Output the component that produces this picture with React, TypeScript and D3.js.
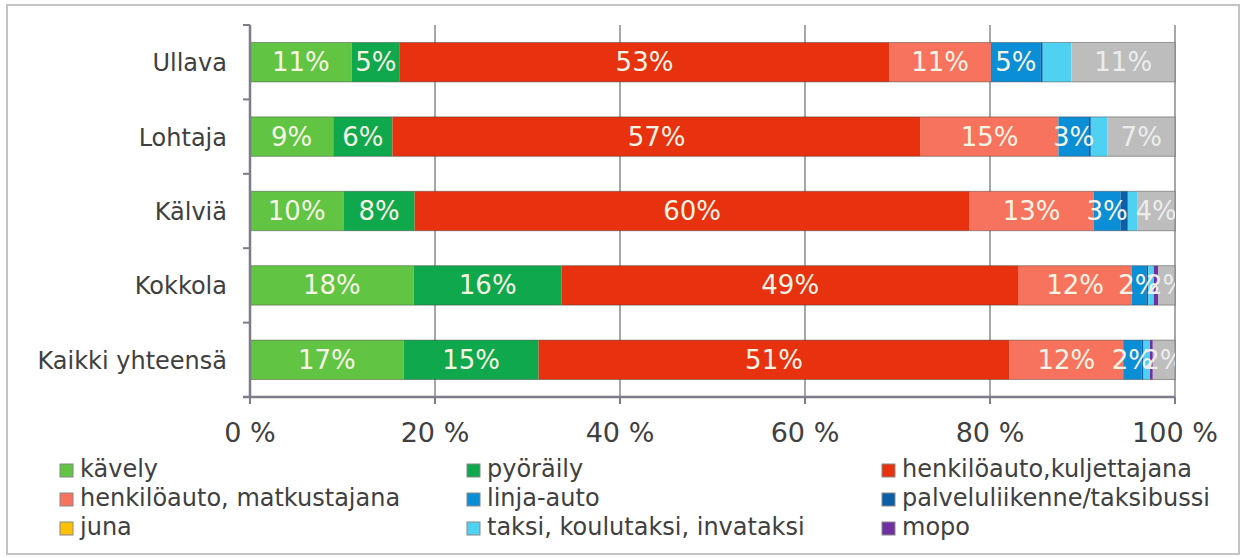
import React from "react";
import * as d3 from "d3";

const categories = ["Ullava", "Lohtaja", "Kälviä", "Kokkola", "Kaikki yhteensä"];
const kavely = [11.0, 9.0, 10.1, 17.7, 16.6];
const pyoraily = [5.2, 6.4, 7.7, 16.0, 14.6];
const kuljettajana = [52.9, 57.1, 60.0, 49.4, 50.9];
const matkustajana = [11.0, 14.9, 13.4, 12.2, 12.3];
const linjaAuto = [5.4, 3.3, 2.9, 1.6, 2.0];
const palvelu = [0.2, 0.2, 0.8, 0.2, 0.2];
const juna = [0, 0, 0, 0, 0];
const taksi = [3.1, 1.8, 1.0, 0.6, 0.7];
const mopo = [0, 0, 0, 0.5, 0.3];
const muu = [11.2, 7.3, 4.1, 1.8, 2.4];

const seriesNames = [
  "kävely",
  "pyöräily",
  "henkilöauto,kuljettajana",
  "henkilöauto, matkustajana",
  "linja-auto",
  "palveluliikenne/taksibussi",
  "juna",
  "taksi, koulutaksi, invataksi",
  "mopo",
  "muu",
];
const seriesValues = [kavely, pyoraily, kuljettajana, matkustajana, linjaAuto, palvelu, juna, taksi, mopo, muu];
const seriesColors = [
  "#62c443",
  "#0fa84c",
  "#e7310f",
  "#f7735e",
  "#0a8ed6",
  "#0b5ea8",
  "#ffc000",
  "#4fd2f2",
  "#7030a0",
  "#bdbdbd",
];
const labelled = [true, true, true, true, true, false, false, false, false, true];
const legendCount = 9;
const xTicks = [0, 20, 40, 60, 80, 100];

const W = 1249;
const H = 557;
const left = 250;
const right = 1175;
const top = 25;
const bottom = 397;
const FONT = "DejaVu Sans, Verdana, sans-serif";

export default function App() {
  const x = d3.scaleLinear().domain([0, 100]).range([left, right]);
  const y = d3
    .scaleBand<string>()
    .domain(categories)
    .range([top, bottom])
    .paddingInner(0.47)
    .paddingOuter(0.235);

  const rows = categories.map((c, i) => {
    const r: any = { cat: c };
    seriesNames.forEach((s, k) => (r[s] = seriesValues[k][i]));
    return r;
  });
  const stack = d3.stack<any>().keys(seriesNames)(rows);
  const step = y.step();

  return (
    <svg width={W} height={H} style={{ position: "absolute", left: 0, top: 0, background: "#fff" }}>
      <defs>
        <clipPath id="plotclip">
          <rect x={left} y={top} width={right - left} height={bottom - top} />
        </clipPath>
      </defs>
      <rect x={7} y={5} width={1232} height={549} fill="#fff" stroke="#c4c4c4" strokeWidth={2} />

      {/* gridlines */}
      {xTicks.slice(1).map((t) => (
        <line key={t} x1={x(t)} x2={x(t)} y1={top} y2={bottom} stroke="#8a8a8a" strokeWidth={1.5} />
      ))}

      {/* bars */}
      {stack.map((layer, k) =>
        layer.map((d, i) => {
          const w = x(d[1]) - x(d[0]);
          if (w <= 0) return null;
          return (
            <rect
              key={k + "-" + i}
              x={x(d[0])}
              y={y(categories[i])}
              width={w}
              height={y.bandwidth()}
              fill={seriesColors[k]}
            />
          );
        })
      )}
      {categories.map((c) => (
        <rect
          key={"o" + c}
          x={left}
          y={y(c)}
          width={right - left}
          height={y.bandwidth()}
          fill="none"
          stroke="rgba(60,60,60,0.45)"
          strokeWidth={1}
        />
      ))}

      {/* data labels */}
      <g clipPath="url(#plotclip)">
        {stack.map((layer, k) =>
          labelled[k]
            ? layer.map((d, i) => {
                const v = d[1] - d[0];
                if (v <= 0) return null;
                const cx = (x(d[0]) + x(d[1])) / 2;
                const cy = (y(categories[i]) as number) + y.bandwidth() / 2;
                return (
                  <text
                    key={"l" + k + "-" + i}
                    x={cx}
                    y={cy + 9}
                    textAnchor="middle"
                    fontFamily={FONT}
                    fontSize={26}
                    fill={k === 9 ? "#ececec" : "#f6f4e4"}
                  >
                    {Math.round(v) + "%"}
                  </text>
                );
              })
            : null
        )}
      </g>

      {/* axes */}
      <line x1={left} x2={left} y1={top} y2={bottom} stroke="#7d7d8a" strokeWidth={2.5} />
      {d3.range(categories.length + 1).map((j) => {
        const yy = top + j * step;
        return <line key={"yt" + j} x1={left - 7} x2={left} y1={yy} y2={yy} stroke="#7d7d8a" strokeWidth={2} />;
      })}
      <line x1={left - 7} x2={right} y1={bottom} y2={bottom} stroke="#7d7d8a" strokeWidth={2.5} />
      {xTicks.map((t) => (
        <g key={"xt" + t}>
          <line x1={x(t)} x2={x(t)} y1={bottom} y2={bottom + 7} stroke="#7d7d8a" strokeWidth={2} />
          <text x={x(t)} y={442} textAnchor="middle" fontFamily={FONT} fontSize={27} fill="#404040">
            {t + " %"}
          </text>
        </g>
      ))}
      {categories.map((c) => (
        <text
          key={"c" + c}
          x={227}
          y={(y(c) as number) + y.bandwidth() / 2 + 9}
          textAnchor="end"
          fontFamily={FONT}
          fontSize={24}
          fill="#404040"
        >
          {c}
        </text>
      ))}

      {/* legend */}
      {seriesNames.slice(0, legendCount).map((s, k) => {
        const col = k % 3;
        const row = Math.floor(k / 3);
        const mx = [60, 467, 882][col];
        const by = 477 + row * 29;
        return (
          <g key={"lg" + k}>
            <rect x={mx} y={by - 13} width={13} height={13} fill={seriesColors[k]} stroke="#888" strokeWidth={1} />
            <text x={mx + 20} y={by} fontFamily={FONT} fontSize={24} fill="#404040">
              {s}
            </text>
          </g>
        );
      })}
    </svg>
  );
}
